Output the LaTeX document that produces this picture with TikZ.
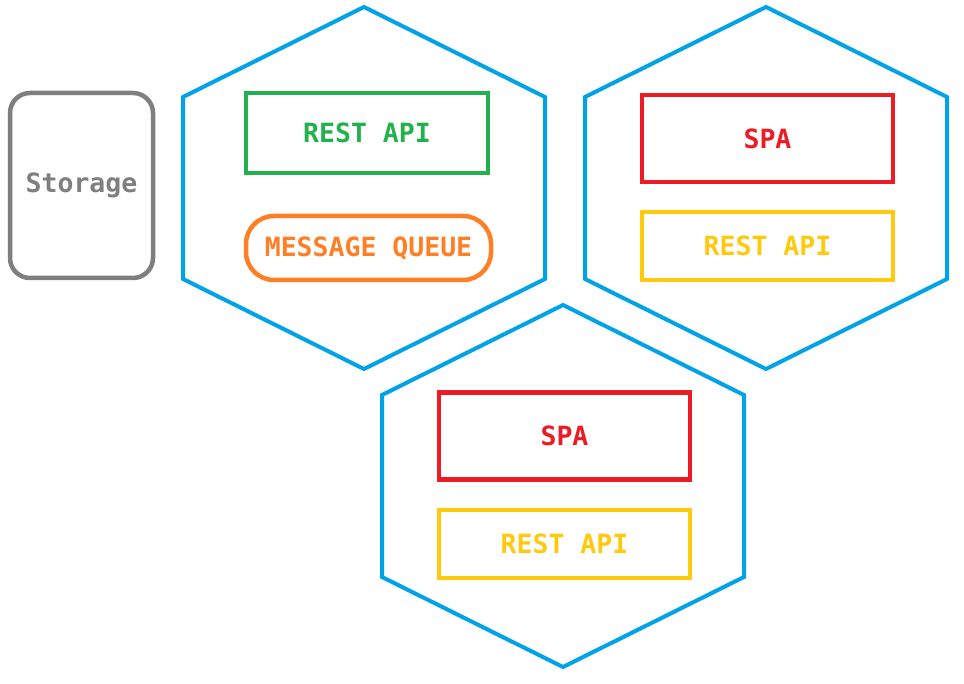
\documentclass[tikz,border=0pt]{standalone}
\usepackage{fontspec}
\setmonofont{DejaVu Sans Mono}
\usetikzlibrary{positioning}
\definecolor{hexblue}{RGB}{0,162,232}
\definecolor{boxgreen}{RGB}{34,177,76}
\definecolor{boxorange}{RGB}{255,127,39}
\definecolor{boxred}{RGB}{237,28,36}
\definecolor{boxyellow}{RGB}{255,201,14}
\definecolor{boxgray}{RGB}{127,127,127}
\tikzset{
	hex/.style={draw=hexblue, line width=4pt, line join=miter},
	box/.style={draw, line width=4.5pt, inner sep=0pt, font=\ttfamily\bfseries\fontsize{26.5}{26.5}\selectfont}
}
\begin{document}
\begin{tikzpicture}[x=1pt, y=-1pt]
\useasboundingbox[fill=white] (0, 0) rectangle (964, 684);
\foreach \cx/\cy/\n in {364/188/1, 766/188/2, 563/486/3}
	\draw[hex] (\cx, \cy) coordinate (hex\n) +(0, -181) -- +(181, -91) -- +(181, 91) -- +(0, 181) -- +(-181, 91) -- +(-181, -91) -- cycle;
\node[box, draw=boxgray, text=boxgray, rounded corners=20pt, minimum width=143pt, minimum height=185pt] (storage) at (81.5, 185.5) {Storage};
\node[box, draw=boxgreen, text=boxgreen, minimum width=242pt, minimum height=80pt] (api1) at (367, 133) {REST API};
\node[box, draw=boxorange, text=boxorange, rounded corners=28pt, minimum width=245pt, minimum height=64pt] (mq) at (368.5, 248) {MESSAGE QUEUE};
\foreach \n/\x/\y in {2/767.5/138.5, 3/564.5/436}
	\node[box, draw=boxred, text=boxred, minimum width=251pt, minimum height=87pt] (spa\n) at (\x, \y) {SPA};
\foreach \n/\x/\y in {2/767.5/246, 3/564.5/544}
	\node[box, draw=boxyellow, text=boxyellow, minimum width=251pt, minimum height=68pt] (api\n) at (\x, \y) {REST API};
\end{tikzpicture}
\end{document}
